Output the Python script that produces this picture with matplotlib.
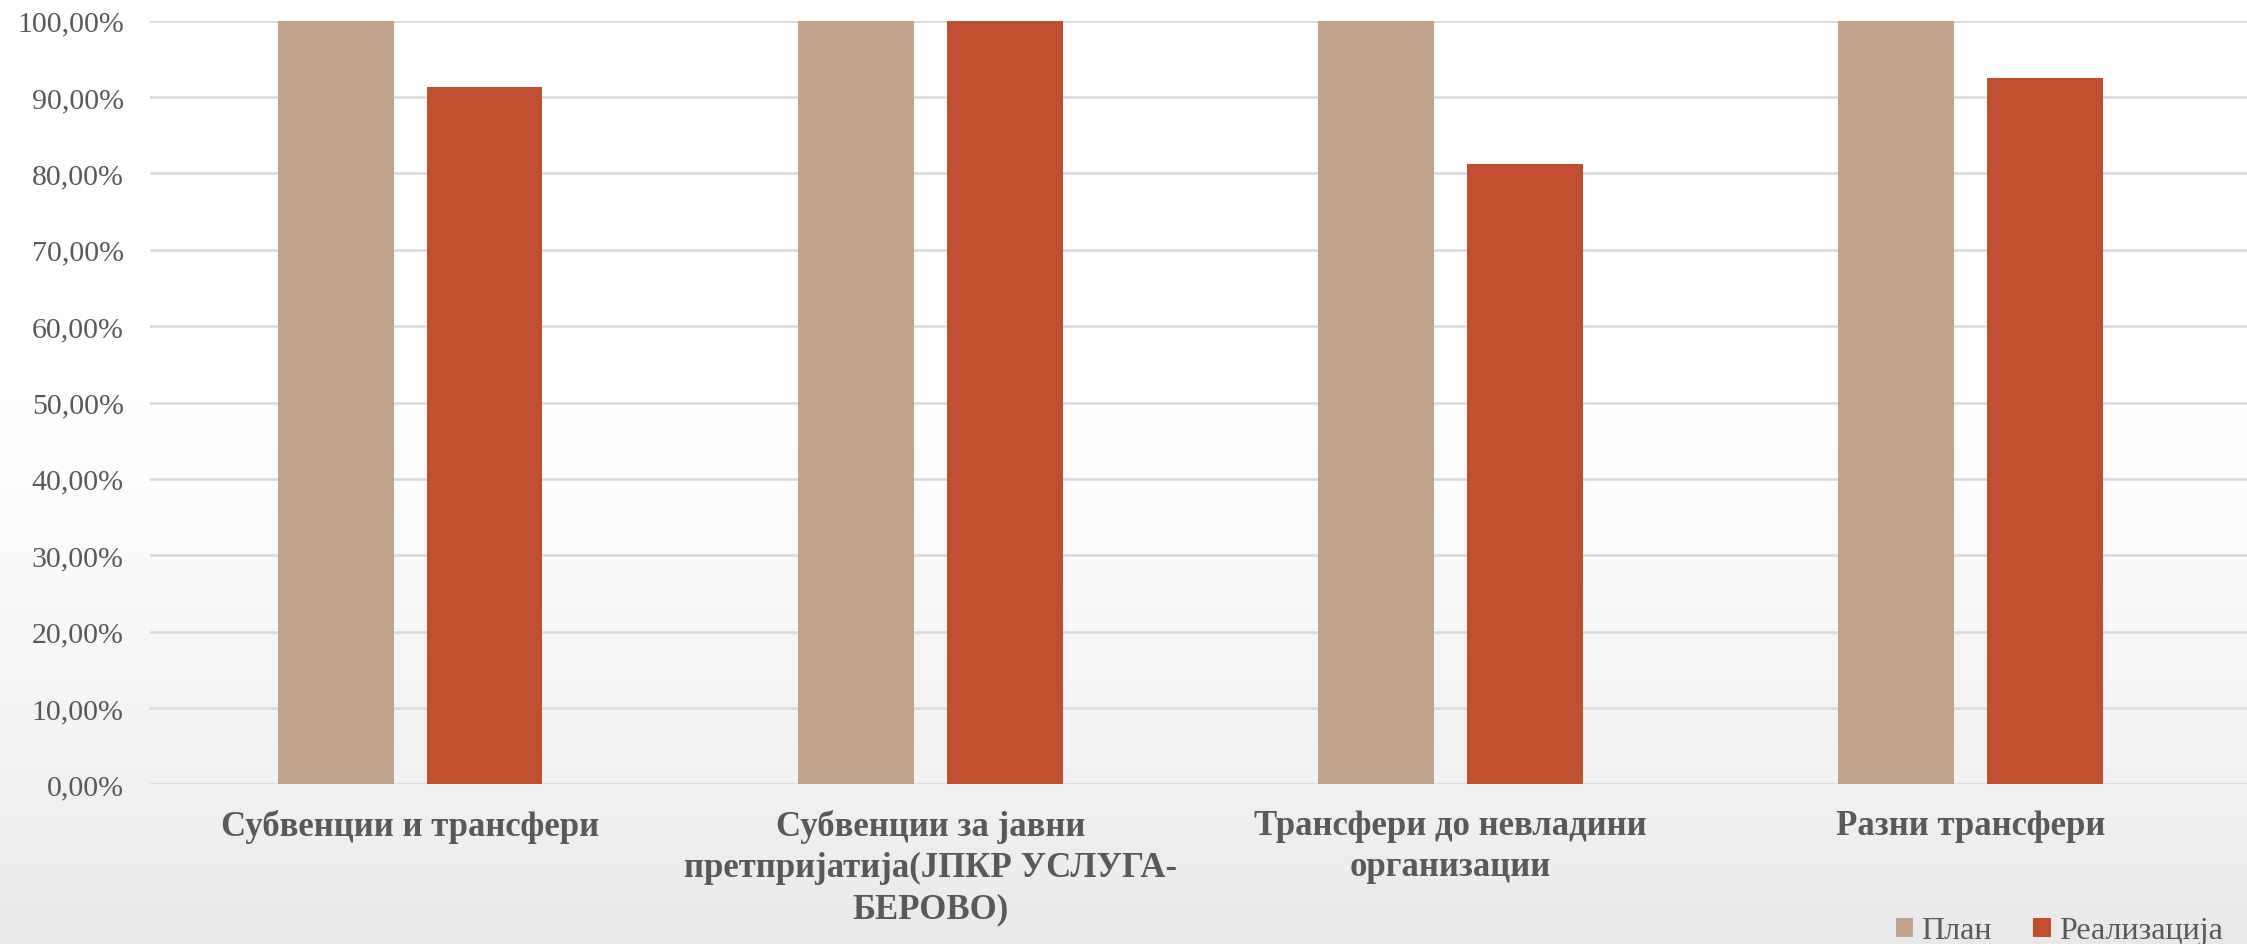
import matplotlib.pyplot as plt
import numpy as np
from matplotlib.ticker import FuncFormatter

categories = [
    "Субвенции и трансфери",
    "Субвенции за јавни\nпретпријатија(ЈПКР УСЛУГА-\nБЕРОВО)",
    "Трансфери до невладини\nорганизации",
    "Разни трансфери",
]
plan = [100.0, 100.0, 100.0, 100.0]
realizacija = [91.3, 100.0, 81.2, 92.5]
yticks = [0, 10, 20, 30, 40, 50, 60, 70, 80, 90, 100]

PLAN_C = "#C2A38D"
REAL_C = "#C04F30"
TEXT_C = "#595959"
GRID_C = "#D9D9D9"

plt.rcParams["font.family"] = ["Liberation Serif", "DejaVu Serif"]

fig = plt.figure(figsize=(22.47, 9.45), dpi=100, facecolor="white")

# faint background wash in the lower part (stands in for the watermark photo)
bg = fig.add_axes([0, 0, 1, 1], zorder=0)
grad = np.linspace(0, 1, 256).reshape(-1, 1)
grad = np.clip((grad - 0.35) / 0.65, 0, 1) ** 1.5
bg.imshow(1 - 0.09 * grad, cmap="gray", vmin=0, vmax=1, aspect="auto",
          extent=[0, 1, 0, 1], origin="upper")
bg.axis("off")

ax = fig.add_axes([0.0668, 0.169, 0.9332, 0.808], zorder=1)
ax.patch.set_alpha(0)

x = np.arange(len(categories))
w = 0.223
off = 0.143
ax.bar(x - off, plan, w, color=PLAN_C, label="План", zorder=3)
ax.bar(x + off, realizacija, w, color=REAL_C, label="Реализација", zorder=3)

ax.set_xlim(-0.5, len(categories) - 0.468)
ax.set_ylim(0, 100)
ax.set_yticks(yticks)
ax.yaxis.set_major_formatter(FuncFormatter(lambda v, p: f"{v:.2f}%".replace(".", ",")))
ax.grid(axis="y", color=GRID_C, linewidth=1.8, zorder=0)
for s in ax.spines.values():
    s.set_visible(False)
ax.tick_params(axis="y", length=0, labelsize=21.5, labelcolor=TEXT_C, pad=19)
ax.tick_params(axis="x", length=0, pad=18)
ax.set_xticks(x)
ax.set_xticklabels(categories, fontsize=25, fontweight="bold", color=TEXT_C,
                   va="top", linespacing=1.32)

leg = fig.legend(loc="lower right", bbox_to_anchor=(1.002, -0.032), ncol=2,
                 frameon=False, fontsize=23, handlelength=0.55, handleheight=0.55,
                 handletextpad=0.25, columnspacing=1.3)
for t in leg.get_texts():
    t.set_color(TEXT_C)

fig.savefig("out.png", dpi=100, facecolor="white")
